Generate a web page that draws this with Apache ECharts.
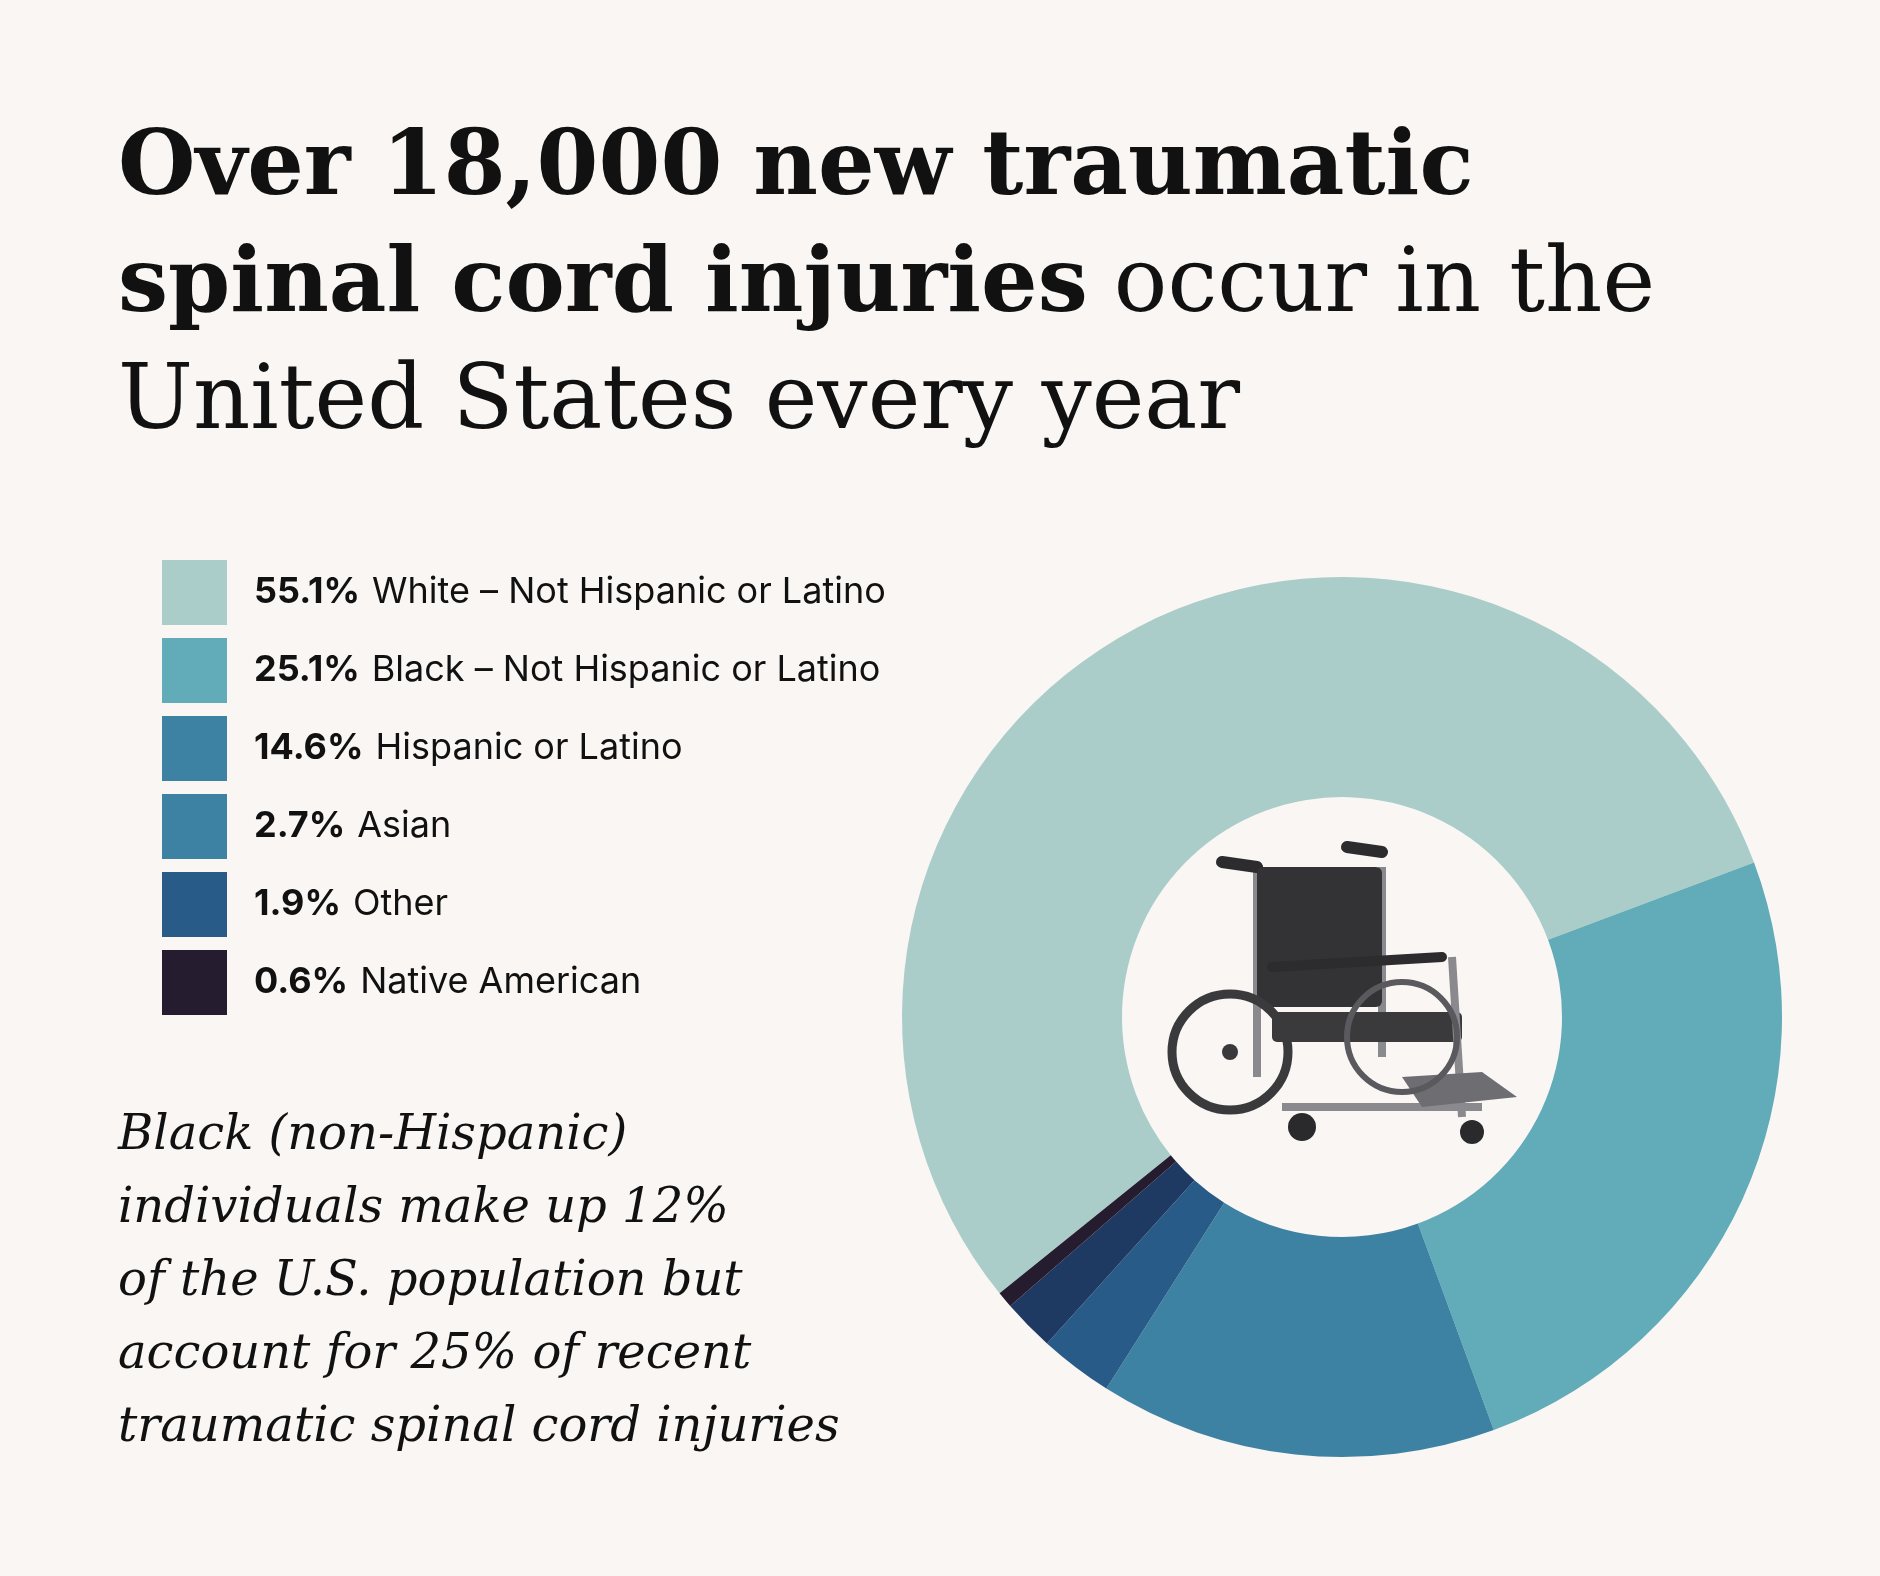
<!DOCTYPE html>
<html>
<head>
<meta charset="utf-8">
<script src="https://cdn.jsdelivr.net/npm/echarts@6/dist/echarts.min.js"></script>
<style>
  html, body { margin: 0; padding: 0; background: #f9f6f4; }
  #chart { width: 1880px; height: 1576px; }
</style>
</head>
<body>
<div id="chart"></div>
<script>
// chart data
const groups = ['White – Not Hispanic or Latino', 'Black – Not Hispanic or Latino', 'Hispanic or Latino', 'Asian', 'Other', 'Native American'];
const shares = [55.1, 25.1, 14.6, 2.7, 1.9, 0.6];
const sliceColors = ['#abcdc9', '#62abb8', '#3e82a3', '#285b87', '#1e3a63', '#251c30'];
const legendColors = ['#abcdc9', '#62abb8', '#3e82a3', '#3e82a3', '#285b87', '#251c30'];

const chart = echarts.init(document.getElementById('chart'));

const cx = 1342, cy = 1017;
const metal = '#8a8a8e', dark = '#2c2c2e';

// rough wheelchair icon in the hole
const chair = [
  { type: 'line', shape: { x1: cx - 85, y1: cy - 150, x2: cx - 85, y2: cy + 60 }, style: { stroke: metal, lineWidth: 8 } },
  { type: 'line', shape: { x1: cx + 40, y1: cy - 150, x2: cx + 40, y2: cy + 40 }, style: { stroke: metal, lineWidth: 8 } },
  { type: 'line', shape: { x1: cx - 120, y1: cy - 155, x2: cx - 85, y2: cy - 150 }, style: { stroke: dark, lineWidth: 12, lineCap: 'round' } },
  { type: 'line', shape: { x1: cx + 5, y1: cy - 170, x2: cx + 40, y2: cy - 165 }, style: { stroke: dark, lineWidth: 12, lineCap: 'round' } },
  { type: 'rect', shape: { x: cx - 85, y: cy - 150, width: 125, height: 140, r: 6 }, style: { fill: '#333336' } },
  { type: 'rect', shape: { x: cx - 70, y: cy - 5, width: 190, height: 30, r: 5 }, style: { fill: '#3a3a3d' } },
  { type: 'line', shape: { x1: cx - 70, y1: cy - 50, x2: cx + 100, y2: cy - 60 }, style: { stroke: dark, lineWidth: 10, lineCap: 'round' } },
  { type: 'line', shape: { x1: cx + 110, y1: cy - 60, x2: cx + 120, y2: cy + 100 }, style: { stroke: metal, lineWidth: 8 } },
  { type: 'line', shape: { x1: cx - 60, y1: cy + 90, x2: cx + 140, y2: cy + 90 }, style: { stroke: metal, lineWidth: 8 } },
  { type: 'polygon', shape: { points: [[cx + 60, cy + 60], [cx + 140, cy + 55], [cx + 175, cy + 80], [cx + 80, cy + 90]] }, style: { fill: '#6e6e72' } },
  { type: 'circle', shape: { cx: cx - 112, cy: cy + 35, r: 58 }, style: { fill: 'none', stroke: '#3a3a3c', lineWidth: 9 } },
  { type: 'circle', shape: { cx: cx - 112, cy: cy + 35, r: 8 }, style: { fill: '#3a3a3c' } },
  { type: 'circle', shape: { cx: cx + 60, cy: cy + 20, r: 55 }, style: { fill: 'none', stroke: '#5a5a5e', lineWidth: 6 } },
  { type: 'circle', shape: { cx: cx - 40, cy: cy + 110, r: 14 }, style: { fill: '#2a2a2c' } },
  { type: 'circle', shape: { cx: cx + 130, cy: cy + 115, r: 12 }, style: { fill: '#2a2a2c' } }
];

const titleFont = '"DejaVu Serif", serif';

chart.setOption({
  backgroundColor: '#f9f6f4',
  legend: {
    orient: 'vertical',
    left: 157,
    top: 555,
    itemWidth: 65,
    itemHeight: 65,
    itemGap: 13,
    icon: 'rect',
    selectedMode: false,
    data: groups.map((g, i) => ({ name: g, itemStyle: { color: legendColors[i] } })),
    formatter: name => {
      const i = groups.indexOf(name);
      return '{b|' + shares[i] + '%}{s| }{n|' + name + '}';
    },
    textStyle: {
      padding: [0, 0, 0, 22],
      rich: {
        b: { fontFamily: 'Inter', fontWeight: 'bold', fontSize: 36, color: '#111' },
        s: { fontFamily: 'Inter', fontSize: 36, width: 12 },
        n: { fontFamily: 'Inter', fontSize: 36, color: '#111' }
      }
    }
  },
  graphic: [
    {
      type: 'text', left: 118, top: 126,
      style: {
        text: '{b|Over 18,000 new traumatic}\n{b|spinal cord injuries}{s| }{r|occur in the}\n{r|United States every year}',
        fill: '#111',
        rich: {
          b: { fontFamily: titleFont, fontWeight: 'bold', fontSize: 89, lineHeight: 117, fill: '#111' },
          s: { fontFamily: titleFont, fontSize: 89, lineHeight: 117, width: 26 },
          r: { fontFamily: titleFont, fontSize: 89, lineHeight: 117, fill: '#111' }
        }
      }
    },
    {
      type: 'text', left: 118, top: 1100,
      style: {
        text: 'Black (non-Hispanic)\nindividuals make up 12%\nof the U.S. population but\naccount for 25% of recent\ntraumatic spinal cord injuries',
        fontFamily: titleFont, fontStyle: 'italic', fontSize: 48, lineHeight: 73, fill: '#111'
      }
    },
    { type: 'group', children: chair, z: 10 }
  ],
  series: [{
    type: 'pie',
    center: [cx, cy],
    radius: [220, 440],
    startAngle: 218.9,
    clockwise: true,
    label: { show: false },
    labelLine: { show: false },
    emphasis: { disabled: true },
    itemStyle: { borderWidth: 0 },
    data: groups.map((g, i) => ({ name: g, value: shares[i], itemStyle: { color: sliceColors[i] } }))
  }]
});
</script>
</body>
</html>
